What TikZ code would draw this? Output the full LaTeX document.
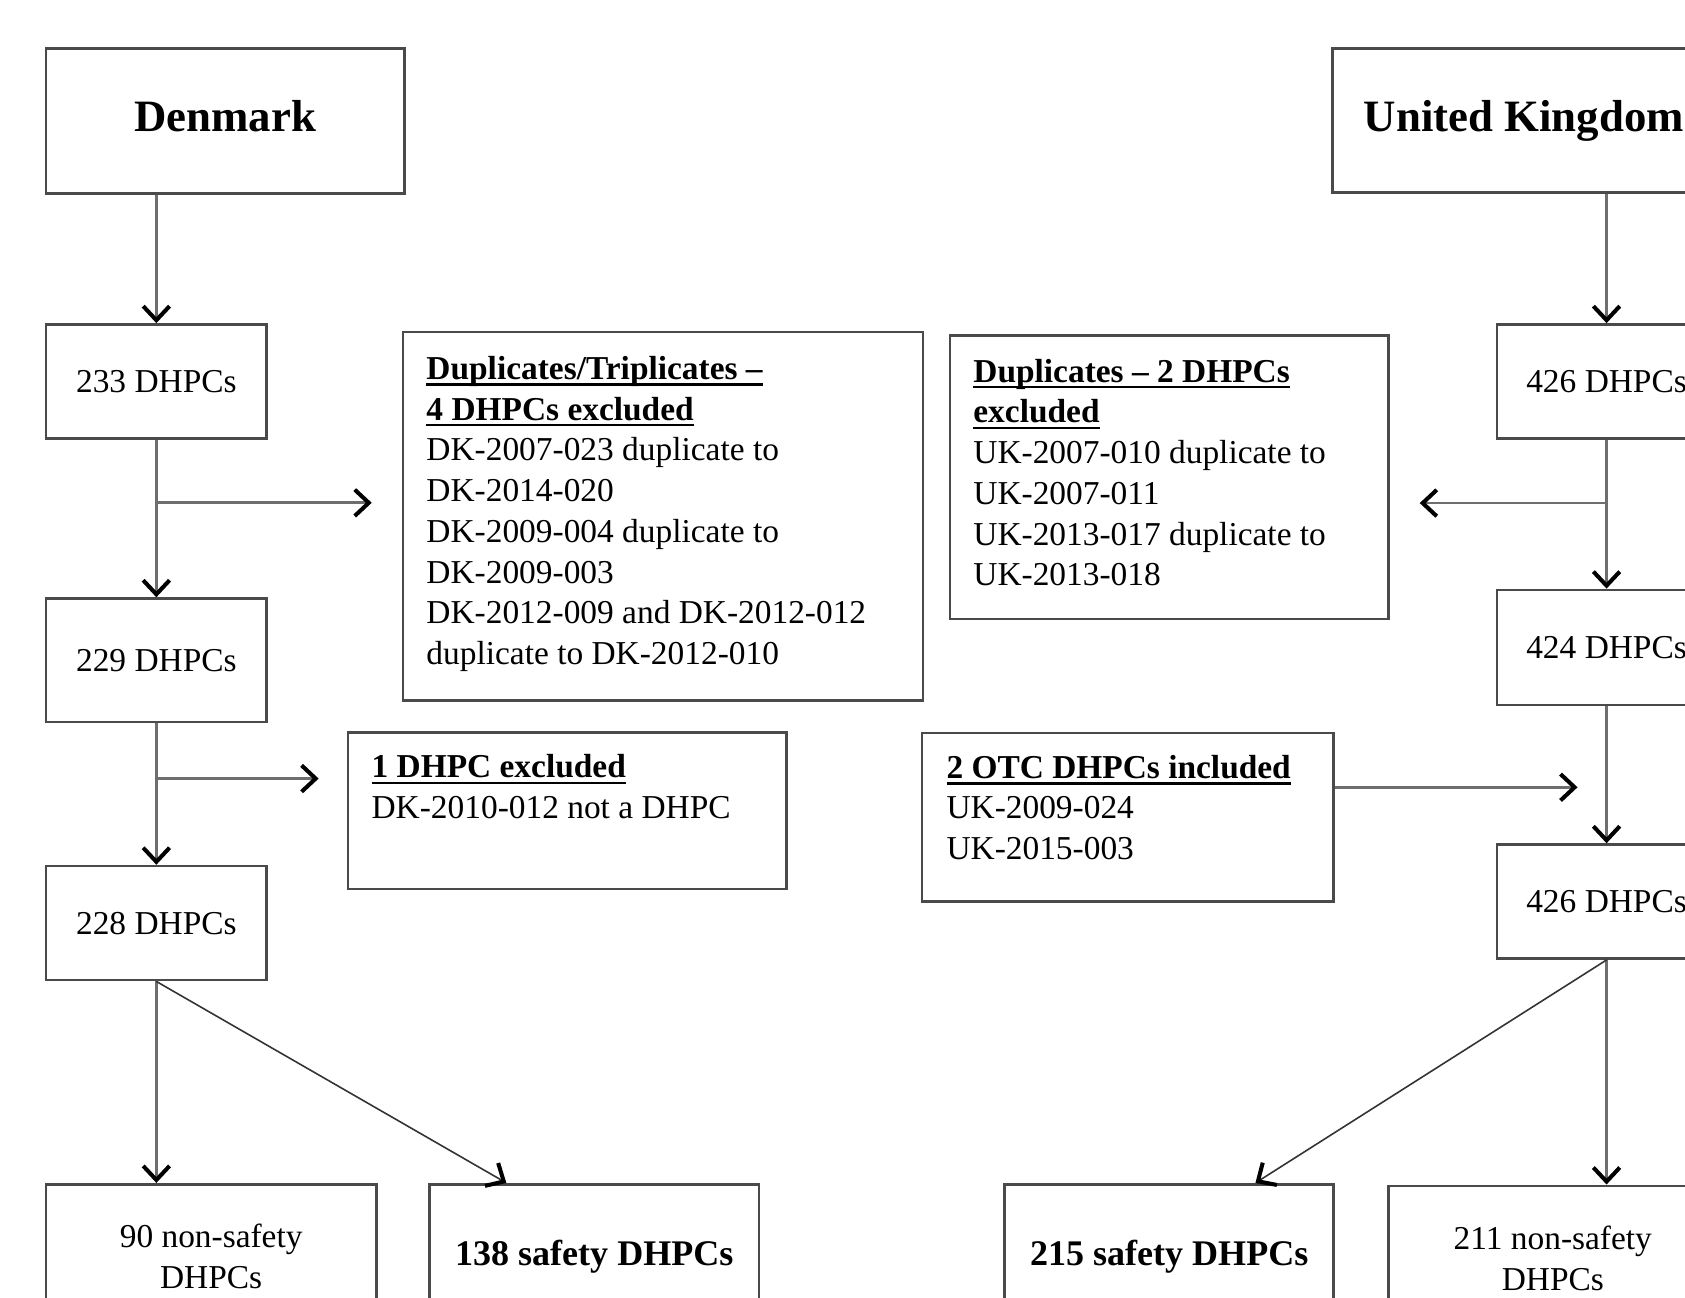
\documentclass[tikz,border=0pt]{standalone}
\usepackage{fontspec}
\setmainfont{Liberation Serif}
\usetikzlibrary{arrows.meta, positioning, calc}
\definecolor{cline}{HTML}{6E6E6E}
\definecolor{cborder}{HTML}{4A4A4A}
\newcommand{\headline}[1]{\textbf{\setbox0\hbox{#1}\rlap{\rule[-3.6pt]{\wd0}{1.5pt}}\box0}}
\tikzset{
  every picture/.style={x=0.02149cm, y=-0.02149cm},
  box/.style={draw=cborder, line width=1.5pt, inner sep=0pt, align=center, font=\fontsize{19}{23.2}\selectfont},
  country/.style={box, text depth=5.5pt, font=\fontsize{25.5}{30}\selectfont\bfseries},
  result/.style={box, font=\fontsize{20.5}{24}\selectfont\bfseries},
  note/.style={anchor=north west, align=left, inner sep=0pt, font=\fontsize{19}{23.2}\selectfont},
  arrow/.style={draw=cline, line width=1.6pt, -{Straight Barb[length=8pt, width=15pt, line width=2.3pt, color=black]}},
  slant/.style={arrow, draw=black!80, line width=0.9pt},
}

\begin{document}
\begin{tikzpicture}
  \useasboundingbox (0,0) rectangle (1568,1207);
  \clip (0,0) rectangle (1568,1207);
  \fill[white] (0,0) rectangle (1568,1207);
  % Denmark
  \node[country, minimum width=7.16cm, minimum height=2.90cm] (dk) at (209.5,112.5) {Denmark};
  \node[box, minimum width=4.41cm, minimum height=2.28cm] (dk233) at (145.5,355) {233 DHPCs};
  \node[box, minimum width=4.41cm, minimum height=2.47cm] (dk229) at (145.5,614.5) {229 DHPCs};
  \node[box, minimum width=4.41cm, minimum height=2.28cm] (dk228) at (145.5,859) {228 DHPCs};
  \node[box, minimum width=6.60cm, minimum height=2.90cm] (dknon) at (196.5,1169.5) {90 non-safety\\DHPCs};
  \node[result, minimum width=6.58cm, minimum height=2.90cm] (dksafe) at (553,1169.5) {138 safety DHPCs};
  \node[box, minimum width=10.40cm, minimum height=7.37cm] (dkdup) at (617,480.5) {};
  \node[note, below right=0.5cm and 0.49cm of dkdup.north west] (dkduptxt)
    {\headline{Duplicates/Triplicates –}\\
     \headline{4 DHPCs excluded}\\
     DK-2007-023 duplicate to\\
     DK-2014-020\\
     DK-2009-004 duplicate to\\
     DK-2009-003\\
     DK-2012-009 and DK-2012-012\\
     duplicate to DK-2012-010};
  \node[box, minimum width=8.77cm, minimum height=3.12cm] (dkex) at (528,754.5) {};
  \node[note, below right=0.46cm and 0.49cm of dkex.north west] (dkextxt)
    {\headline{1 DHPC excluded}\\
     DK-2010-012 not a DHPC};
  \coordinate (dkb1) at ($(dk233.south)!0.4!(dk229.north)$);
  \coordinate (dkb2) at ($(dk229.south)!0.39!(dk228.north)$);
  \draw[arrow] (dk233.north |- dk.south) -- (dk233.north);
  \draw[arrow] (dk233) -- (dk229);
  \draw[arrow, shorten >=17pt] (dkb1) -- (dkb1 -| dkdup.west);
  \draw[arrow] (dk229) -- (dk228);
  \draw[arrow, shorten >=16pt] (dkb2) -- (dkb2 -| dkex.west);
  \draw[arrow] (dk228.south) -- (dk228.south |- dknon.north);
  \draw[slant] (dk228.south) -- ($(dksafe.north west)!0.235!(dksafe.north east)$);
  % United Kingdom
  \node[country, minimum width=7.65cm, minimum height=2.88cm] (uk) at (1418,112) {United Kingdom};
  \node[box, minimum width=4.38cm, minimum height=2.28cm] (uk426) at (1495,355) {426 DHPCs};
  \node[box, minimum width=4.38cm, minimum height=2.30cm] (uk424) at (1495,602.5) {424 DHPCs};
  \node[box, minimum width=4.38cm, minimum height=2.28cm] (uk426b) at (1495,839) {426 DHPCs};
  \node[result, minimum width=6.58cm, minimum height=2.90cm] (uksafe) at (1088,1169.5) {215 safety DHPCs};
  \node[box, minimum width=6.58cm, minimum height=2.90cm] (uknon) at (1445,1171) {211 non-safety\\DHPCs};
  \node[box, minimum width=8.77cm, minimum height=5.67cm] (ukdup) at (1088,444) {};
  \node[note, below right=0.49cm and 0.49cm of ukdup.north west] (ukduptxt)
    {\headline{Duplicates – 2 DHPCs}\\
     \headline{excluded}\\
     UK-2007-010 duplicate to\\
     UK-2007-011\\
     UK-2013-017 duplicate to\\
     UK-2013-018};
  \node[box, minimum width=8.23cm, minimum height=3.37cm] (ukotc) at (1049.5,760.5) {};
  \node[note, below right=0.46cm and 0.51cm of ukotc.north west] (ukotctxt)
    {\headline{2 OTC DHPCs included}\\
     UK-2009-024\\
     UK-2015-003};
  \coordinate (ukb1) at ($(uk426.south)!0.425!(uk424.north)$);
  \coordinate (ukotcout) at ($(ukotc.north east)!0.325!(ukotc.south east)$);
  \draw[arrow] (uk426.north |- uk.south) -- (uk426.north);
  \draw[arrow] (uk426) -- (uk424);
  \draw[arrow, shorten >=17pt] (ukb1) -- (ukb1 -| ukdup.east);
  \draw[arrow] (uk424) -- (uk426b);
  \draw[arrow, shorten >=16.5pt] (ukotcout) -- (ukotcout -| uk426b.north);
  \draw[arrow] (uk426b.south) -- (uk426b.south |- uknon.north);
  \draw[slant] (uk426b.south) -- ($(uksafe.north west)!0.76!(uksafe.north east)$);
\end{tikzpicture}
\end{document}
